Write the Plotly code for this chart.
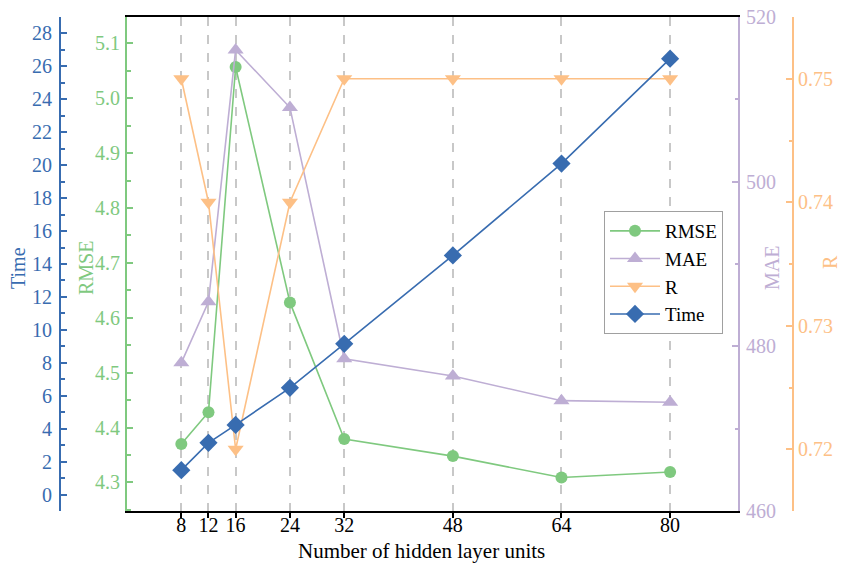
import plotly.graph_objects as go

# Hidden layer sizes tested
units = [8, 12, 16, 24, 32, 48, 64, 80]

# Metrics for each configuration
rmse = [4.370, 4.428, 5.057, 4.628, 4.379, 4.348, 4.309, 4.319]
mae = [478.0, 485.4, 516.0, 509.0, 478.5, 476.4, 473.4, 473.2]
r_val = [0.75, 0.74, 0.72, 0.74, 0.75, 0.75, 0.75, 0.75]
time_s = [1.48, 3.14, 4.23, 6.48, 9.15, 14.52, 20.1, 26.47]

C_RMSE = "#7fc97f"
C_MAE = "#beaed4"
C_R = "#fdc086"
C_TIME = "#386cb0"

FONT = "Liberation Serif, Times New Roman, serif"
FS = 20
W, H = 841, 564
L_PX, R_PX, T_PX, B_PX = 127, 738, 17, 511

fig = go.Figure()
fig.add_trace(go.Scatter(x=units, y=rmse, name="RMSE", yaxis="y",
                         mode="lines+markers",
                         line=dict(color=C_RMSE, width=1.6),
                         marker=dict(symbol="circle", size=12, color=C_RMSE)))
fig.add_trace(go.Scatter(x=units, y=mae, name="MAE", yaxis="y2",
                         mode="lines+markers",
                         line=dict(color=C_MAE, width=1.6),
                         marker=dict(symbol="triangle-up", size=14, color=C_MAE)))
fig.add_trace(go.Scatter(x=units, y=r_val, name="R", yaxis="y3",
                         mode="lines+markers",
                         line=dict(color=C_R, width=1.6),
                         marker=dict(symbol="triangle-down", size=14, color=C_R)))
fig.add_trace(go.Scatter(x=units, y=time_s, name="Time", yaxis="y4",
                         mode="lines+markers",
                         line=dict(color=C_TIME, width=1.6),
                         marker=dict(symbol="diamond", size=14, color=C_TIME)))


def yax(color, rng, dtick, minor, fmt, standoff, **kw):
    d = dict(
        range=rng, dtick=dtick, tickformat=fmt,
        showline=True, linecolor=color, linewidth=2,
        ticks="inside", ticklen=6, tickwidth=1.5, tickcolor=color,
        minor=dict(dtick=minor, ticks="inside", ticklen=3.5,
                   tickwidth=1.5, tickcolor=color, showgrid=False),
        showgrid=False, zeroline=False, automargin=False,
        tickfont=dict(family=FONT, size=FS, color=color),
        ticklabelstandoff=standoff,
    )
    d.update(kw)
    return d


def px_x(px):
    return px / W


def px_y(py):
    return (B_PX - py) / (B_PX - T_PX)


# axis titles placed beside their own axes
titles = [
    ("Time", C_TIME, 18, 268, -90, FS),
    ("RMSE", C_RMSE, 86, 268, -90, FS),
    ("MAE", C_MAE, 772, 268, -90, FS),
    ("R", C_R, 830, 262, -90, FS),
    ("Number of hidden layer units", "black", 421, 551, 0, 21),
]
annotations = [
    dict(text=t, x=px_x(x), y=px_y(y), xref="paper", yref="paper",
         xanchor="center", yanchor="middle", showarrow=False,
         textangle=a, font=dict(family=FONT, size=s, color=c))
    for t, c, x, y, a, s in titles
]

fig.update_layout(
    width=W, height=H,
    margin=dict(l=0, r=0, t=T_PX, b=H - B_PX, autoexpand=False),
    plot_bgcolor="white", paper_bgcolor="white",
    showlegend=True,
    xaxis=dict(
        domain=[L_PX / W, R_PX / W],
        range=[0, 90],
        tickvals=units,
        showline=True, linecolor="black", linewidth=2, mirror=True,
        ticks="outside", ticklen=5, tickwidth=1.5, tickcolor="black",
        showgrid=True, gridcolor="#c8c8c8", gridwidth=1.5, griddash="dash",
        zeroline=False, automargin=False,
        tickfont=dict(family=FONT, size=FS, color="black"),
        ticklabelstandoff=-10,
    ),
    yaxis=yax(C_RMSE, [4.248, 5.148], 0.1, 0.05, ".1f", 1,
              anchor="x", side="left", tick0=4.3),
    yaxis2=yax(C_MAE, [460, 520], 20, 10, "d", 2,
               anchor="x", overlaying="y", side="right"),
    yaxis3=yax(C_R, [0.715, 0.755], 0.01, 0.005, ".2f", 0,
               anchor="free", overlaying="y", side="right",
               position=793 / W),
    yaxis4=yax(C_TIME, [-1, 29], 2, 1, "d", 3,
               anchor="free", overlaying="y", side="left",
               position=60 / W),
    annotations=annotations,
    legend=dict(
        x=px_x(604), y=px_y(211),
        xanchor="left", yanchor="top",
        bgcolor="white", bordercolor="#a0a0a0", borderwidth=1,
        font=dict(family=FONT, size=19, color="black"),
        itemwidth=50,
    ),
)

fig.write_html("out.html")
